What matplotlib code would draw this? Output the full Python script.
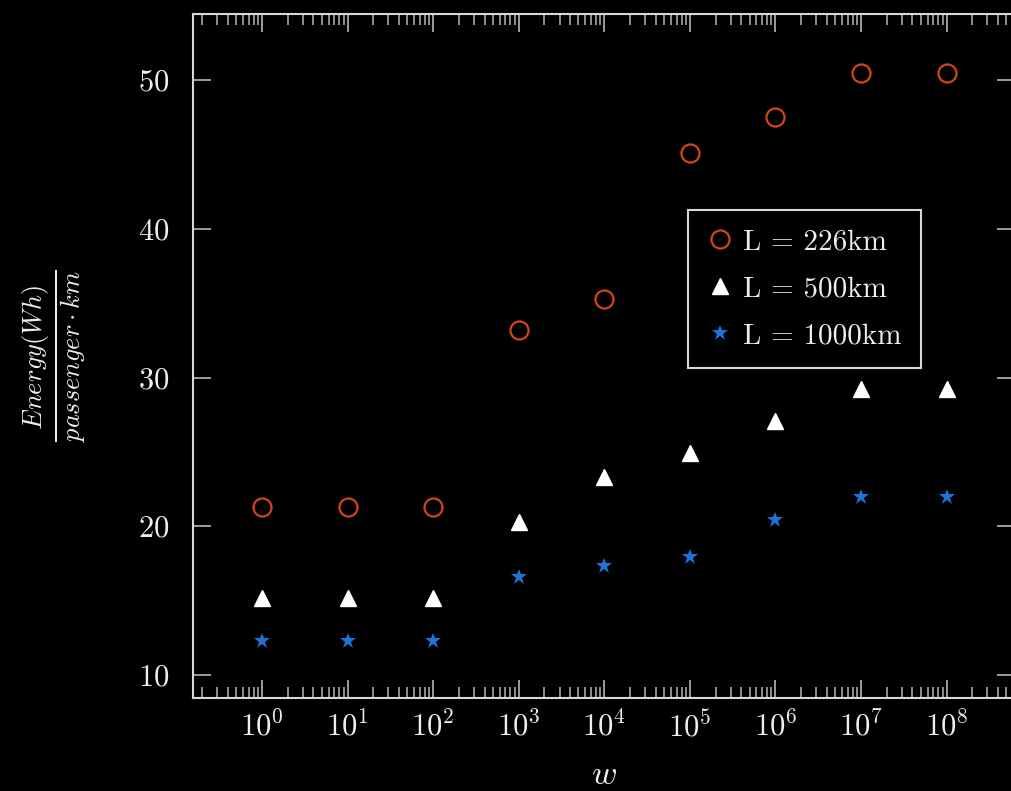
import numpy as np
import matplotlib
matplotlib.use("Agg")
import matplotlib.pyplot as plt
from matplotlib.ticker import LogLocator, NullFormatter, FixedLocator

# data
w = [1e0, 1e1, 1e2, 1e3, 1e4, 1e5, 1e6, 1e7, 1e8]
e_226 = [21.3, 21.3, 21.3, 33.2, 35.3, 45.1, 47.5, 50.5, 50.5]
e_500 = [15.2, 15.2, 15.2, 20.3, 23.3, 24.9, 27.1, 29.2, 29.2]
e_1000 = [12.3, 12.3, 12.3, 16.6, 17.3, 17.9, 20.4, 22.0, 22.0]
yticks = [10, 20, 30, 40, 50]

plt.rcParams['font.family'] = 'serif'
plt.rcParams['font.serif'] = ['cmr10']
plt.rcParams['mathtext.fontset'] = 'cm'
plt.rcParams['axes.formatter.use_mathtext'] = True

fig = plt.figure(figsize=(10.11, 7.91), dpi=100, facecolor='black')
ax = fig.add_axes([193/1011, 1 - 698/791, 822/1011, 684/791], facecolor='black')

ax.plot(w, e_226, 'o', ms=13, mfc='none', mec='#d2441a', mew=1.6, label='L = 226km')
ax.plot(w, e_500, '^', ms=11, color='white', label='L = 500km')
ax.plot(w, e_1000, '*', ms=12, color='#1f73d6', mew=0, label='L = 1000km')

ax.set_xscale('log')
ax.set_xlim(10**-0.806, 10**8.8)
ax.set_ylim(8.45, 54.45)
ax.xaxis.set_major_locator(LogLocator(base=10, numticks=20))
ax.xaxis.set_minor_locator(LogLocator(base=10, subs=np.arange(2, 10), numticks=20))
ax.xaxis.set_minor_formatter(NullFormatter())
ax.yaxis.set_major_locator(FixedLocator(yticks))

for s in ax.spines.values():
    s.set_color('#d8d8d8')
    s.set_linewidth(1.5)

ax.tick_params(axis='both', which='both', direction='in', top=True, right=True,
               color='#a8a8a8', labelcolor='#eeeeee', labelsize=22)
ax.tick_params(axis='both', which='major', length=13, width=1.3)
ax.tick_params(axis='x', which='major', pad=9)
ax.tick_params(axis='y', which='major', pad=17)
ax.tick_params(axis='x', which='minor', length=8, width=1.2)

ax.set_xlabel(r'$w$', color='#eeeeee', fontsize=25, labelpad=12)
ax.set_ylabel(r'$\frac{Energy(Wh)}{passenger\cdot km}$', color='#eeeeee', fontsize=27, labelpad=36)

leg = ax.legend(loc='upper left', bbox_to_anchor=(0.602, 0.713), borderaxespad=0,
                fontsize=21, frameon=True, fancybox=False, facecolor='black',
                edgecolor='#d8d8d8', labelcolor='#eeeeee', handletextpad=0.35,
                handlelength=0.9, labelspacing=0.7, borderpad=0.65)
leg.get_frame().set_linewidth(1.5)
leg.get_frame().set_alpha(1)

fig.savefig('out.png', dpi=100, facecolor='black')
